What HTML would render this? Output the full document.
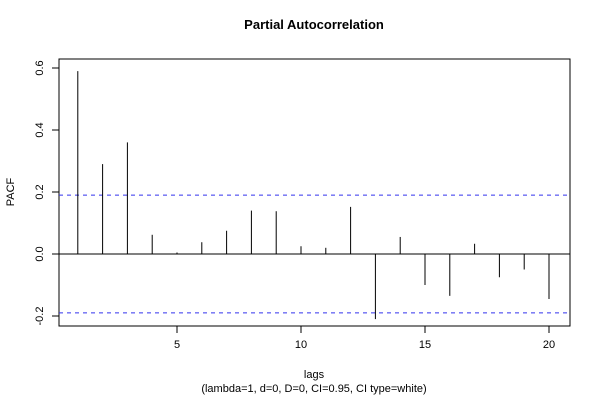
<!DOCTYPE html>
<html><head><meta charset="utf-8"><style>
body{margin:0;background:#fff;}
text{font-family:"Liberation Sans",Helvetica,sans-serif;fill:#000;}
</style></head><body>
<svg id="chart" width="600" height="400" xmlns="http://www.w3.org/2000/svg">
<rect width="600" height="400" fill="#fff"/>
<text x="314" y="29" font-size="13" font-weight="bold" text-anchor="middle">Partial Autocorrelation</text>
<rect x="59" y="59" width="511" height="267" fill="none" stroke="#000" stroke-width="1"/>
<g id="marks"></g>
<text x="314" y="378" font-size="11" text-anchor="middle">lags</text>
<text x="314" y="392" font-size="11" text-anchor="middle">(lambda=1, d=0, D=0, CI=0.95, CI type=white)</text>
<text x="0" y="0" font-size="11" text-anchor="middle" transform="translate(14,192) rotate(-90)">PACF</text>
</svg>
<script>
const lags=[1,2,3,4,5,6,7,8,9,10,11,12,13,14,15,16,17,18,19,20];
const pacf=[0.59,0.29,0.36,0.062,0.005,0.038,0.075,0.14,0.138,0.025,0.02,0.152,-0.21,0.055,-0.1,-0.135,0.033,-0.075,-0.05,-0.145];
const ci=0.19;
const xTicks=[5,10,15,20];
const yTicks=[-0.2,0.0,0.2,0.4,0.6];
const yTickLabels=["-0.2","0.0","0.2","0.4","0.6"];
const X=v=>177+(v-5)*24.8;
const Y=v=>254-v*310;
const ns="http://www.w3.org/2000/svg";
const g=document.getElementById('marks');
function mk(t,a){const e=document.createElementNS(ns,t);for(const k in a)e.setAttribute(k,a[k]);g.appendChild(e);return e;}
let z=mk('line',{x1:59,x2:570,y1:Y(0),y2:Y(0),stroke:'#000'});


[ci,-ci].forEach((c,i)=>{const l=mk('line',{x1:59,x2:570,y1:Y(c),y2:Y(c),stroke:'#3333ee','stroke-dasharray':'4,4'});

});
lags.forEach((l,i)=>{const b=mk('line',{x1:X(l),x2:X(l),y1:Y(0),y2:Y(pacf[i]),stroke:'#000'});

});
xTicks.forEach(t=>{const tk=mk('line',{x1:X(t),x2:X(t),y1:326,y2:333,stroke:'#000'});


const tx=mk('text',{x:X(t),y:348,'font-size':11,'text-anchor':'middle'});tx.textContent=t;

});
yTicks.forEach((t,i)=>{const tk=mk('line',{x1:52,x2:59,y1:Y(t),y2:Y(t),stroke:'#000'});


const tx=mk('text',{x:0,y:0,'font-size':11,'text-anchor':'middle',transform:`translate(43,${Y(t)}) rotate(-90)`});tx.textContent=yTickLabels[i];

});
</script>
</body></html>
